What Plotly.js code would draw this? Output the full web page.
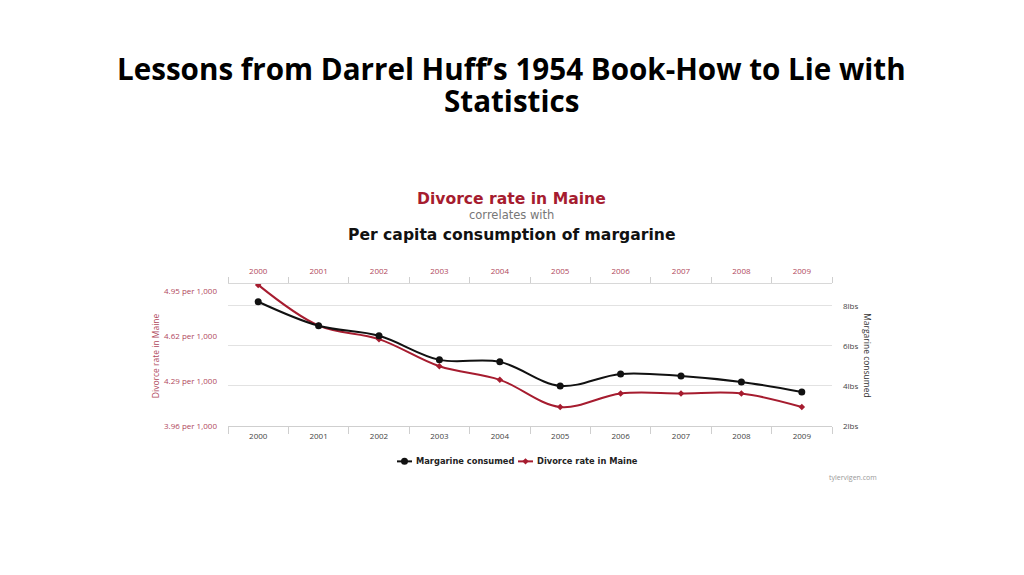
<!DOCTYPE html>
<html>
<head>
<meta charset="utf-8">
<script src="https://cdn.plot.ly/plotly-3.0.1.min.js"></script>
<style>html,body{margin:0;padding:0;background:#fff;}#chart{width:1024px;height:575px;}</style>
</head>
<body>
<div id="chart"></div>
<script>
// ---- data ----
const years = [2000, 2001, 2002, 2003, 2004, 2005, 2006, 2007, 2008, 2009];
const margarine = [8.2, 7.0, 6.5, 5.3, 5.2, 4.0, 4.6, 4.5, 4.2, 3.7];
const divorce = [5.0, 4.7, 4.6, 4.4, 4.3, 4.1, 4.2, 4.2, 4.2, 4.1];
const divorceTicks = [3.96, 4.29, 4.62, 4.95];
const divorceTickText = ['3.96 per 1,000', '4.29 per 1,000', '4.62 per 1,000', '4.95 per 1,000'];
const margTicks = [2, 4, 6, 8];
const margTickText = ['2lbs', '4lbs', '6lbs', '8lbs'];
const seriesNames = ['Margarine consumed', 'Divorce rate in Maine'];

// ---- layout geometry (pixels of plot area) ----
const L = 228, R = 832, T = 284, B = 425.7;
const W = R - L, H = B - T;
function px(x) { return (x - L) / W; }
function py(y) { return (B - y) / H; }

const RED = '#a61c2f';
const BLACK = '#111111';
const TICKRED = '#b0485c';
const FONT = 'Open Sans, Noto Sans, sans-serif';
const DV = 'DejaVu Sans, sans-serif';

const traces = [
  {
    type: 'scatter', mode: 'lines+markers', name: seriesNames[0],
    x: years, y: margarine, xaxis: 'x', yaxis: 'y2',
    line: {color: BLACK, width: 2, shape: 'spline', smoothing: 1},
    marker: {color: BLACK, size: 7, symbol: 'circle'}
  },
  {
    type: 'scatter', mode: 'lines+markers', name: seriesNames[1],
    x: years, y: divorce, xaxis: 'x', yaxis: 'y',
    line: {color: RED, width: 2, shape: 'spline', smoothing: 1},
    marker: {color: RED, size: 5, symbol: 'diamond'}
  },
  {
    type: 'scatter', mode: 'markers', x: [], y: [], xaxis: 'x2', yaxis: 'y',
    showlegend: false, hoverinfo: 'skip'
  }
];

const xr = [years[0] - 0.5, years[years.length - 1] + 0.5];

// compact legend (glyph + label) built from the series names/colours
function legendEntry(x0, name, color, symbol) {
  const yy = py(461);
  const shapes = [
    {type: 'line', xref: 'paper', yref: 'paper', x0: px(x0), x1: px(x0 + 15), y0: yy, y1: yy,
     line: {color: color, width: 2}}
  ];
  const cx = px(x0 + 7.5);
  if (symbol === 'circle') {
    shapes.push({type: 'circle', xref: 'paper', yref: 'paper', xsizemode: 'pixel', ysizemode: 'pixel',
      xanchor: cx, yanchor: yy, x0: -3.5, x1: 3.5, y0: -3.5, y1: 3.5,
      fillcolor: color, line: {width: 0}});
  } else {
    shapes.push({type: 'path', xref: 'paper', yref: 'paper', xsizemode: 'pixel', ysizemode: 'pixel',
      xanchor: cx, yanchor: yy, path: 'M0,3.2 L3.2,0 L0,-3.2 L-3.2,0 Z',
      fillcolor: color, line: {width: 0}});
  }
  const ann = {text: '<b>' + name + '</b>', x: px(x0 + 17), y: yy, xref: 'paper', yref: 'paper',
    showarrow: false, xanchor: 'left', yanchor: 'middle',
    font: {family: DV, size: 8.3, color: '#222'}};
  return {shapes: shapes, ann: ann};
}
const leg1 = legendEntry(397, seriesNames[0], BLACK, 'circle');
const leg2 = legendEntry(518, seriesNames[1], RED, 'diamond');

const layout = {
  width: 1024, height: 575,
  paper_bgcolor: '#ffffff', plot_bgcolor: '#ffffff',
  margin: {l: L, r: 1024 - R, t: T, b: 575 - B, pad: 0},
  font: {family: FONT, color: '#333'},
  showlegend: false,
  xaxis: {
    range: xr, tickvals: years, ticktext: years.map(String),
    ticks: '', showgrid: false, zeroline: false,
    showline: true, linecolor: '#cfcfcf', linewidth: 1,
    tickfont: {family: FONT, size: 8, color: '#444'},
    ticklabelstandoff: 2,
    minor: {tickmode: 'linear', tick0: xr[0], dtick: 1, ticks: 'outside', ticklen: 7, tickcolor: '#cfcfcf', showgrid: false}
  },
  xaxis2: {
    overlaying: 'x', side: 'top', anchor: 'y',
    range: xr, tickvals: years, ticktext: years.map(String),
    ticks: '', showgrid: false, zeroline: false,
    showline: true, linecolor: '#d8d8d8', linewidth: 1,
    tickfont: {family: FONT, size: 8, color: TICKRED},
    ticklabelstandoff: 6,
    minor: {tickmode: 'linear', tick0: xr[0], dtick: 1, ticks: 'outside', ticklen: 6, tickcolor: '#cfcfcf', showgrid: false}
  },
  yaxis: {
    range: [3.96, 3.96 + H / 135.4],
    tickvals: divorceTicks, ticktext: divorceTickText,
    showgrid: false, zeroline: false, showline: false, ticks: '',
    tickfont: {family: FONT, size: 8, color: TICKRED},
    ticklabelstandoff: 10
  },
  yaxis2: {
    overlaying: 'y', side: 'right', anchor: 'x',
    range: [2, 2 + H / 20],
    tickvals: margTicks, ticktext: margTickText,
    showgrid: true, gridcolor: '#e2e2e2', gridwidth: 1,
    zeroline: false, showline: false, ticks: '',
    tickfont: {family: FONT, size: 8, color: '#444'},
    ticklabelstandoff: 10
  },
  shapes: leg1.shapes.concat(leg2.shapes),
  annotations: [
    {text: '<b>Lessons from Darrel Huff’s 1954 Book-How to Lie with</b>', x: px(511), y: py(69),
     xref: 'paper', yref: 'paper', showarrow: false, xanchor: 'center', yanchor: 'middle',
     font: {family: FONT, size: 29.6, color: '#000'}},
    {text: '<b>Statistics</b>', x: px(511), y: py(101),
     xref: 'paper', yref: 'paper', showarrow: false, xanchor: 'center', yanchor: 'middle',
     font: {family: FONT, size: 29.6, color: '#000'}},
    {text: '<b>Divorce rate in Maine</b>', x: px(511), y: py(199),
     xref: 'paper', yref: 'paper', showarrow: false, xanchor: 'center', yanchor: 'middle',
     font: {family: DV, size: 15.6, color: RED}},
    {text: 'correlates with', x: px(511), y: py(215.5),
     xref: 'paper', yref: 'paper', showarrow: false, xanchor: 'center', yanchor: 'middle',
     font: {family: DV, size: 11.5, color: '#777'}},
    {text: '<b>Per capita consumption of margarine</b>', x: px(511), y: py(235),
     xref: 'paper', yref: 'paper', showarrow: false, xanchor: 'center', yanchor: 'middle',
     font: {family: DV, size: 15.6, color: '#111'}},
    {text: 'Divorce rate in Maine', x: px(155), y: py(356), textangle: -90,
     xref: 'paper', yref: 'paper', showarrow: false, xanchor: 'center', yanchor: 'middle',
     font: {family: FONT, size: 8.5, color: TICKRED}},
    {text: 'Margarine consumed', x: px(868), y: py(355), textangle: 90,
     xref: 'paper', yref: 'paper', showarrow: false, xanchor: 'center', yanchor: 'middle',
     font: {family: FONT, size: 8.5, color: '#333'}},
    {text: 'tylervigen.com', x: px(853), y: py(477),
     xref: 'paper', yref: 'paper', showarrow: false, xanchor: 'center', yanchor: 'middle',
     font: {family: FONT, size: 7, color: '#999'}},
    leg1.ann, leg2.ann
  ]
};

Plotly.newPlot('chart', traces, layout, {displayModeBar: false, staticPlot: true});
</script>
</body>
</html>
